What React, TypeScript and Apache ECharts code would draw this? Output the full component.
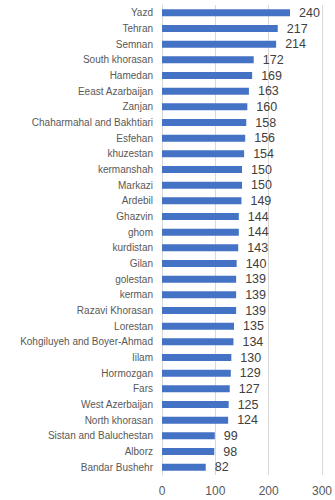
import React, { useEffect, useRef } from "react";
import * as echarts from "echarts";

const categories = [
  "Yazd", "Tehran", "Semnan", "South khorasan", "Hamedan", "Eeast Azarbaijan", "Zanjan",
  "Chaharmahal and Bakhtiari", "Esfehan", "khuzestan", "kermanshah", "Markazi", "Ardebil",
  "Ghazvin", "ghom", "kurdistan", "Gilan", "golestan", "kerman", "Razavi Khorasan", "Lorestan",
  "Kohgiluyeh and Boyer-Ahmad", "Iilam", "Hormozgan", "Fars", "West Azerbaijan", "North khorasan",
  "Sistan and Baluchestan", "Alborz", "Bandar Bushehr",
];
const values = [
  240, 217, 214, 172, 169, 163, 160, 158, 156, 154, 150, 150, 149, 144, 144, 143, 140, 139, 139,
  139, 135, 134, 130, 129, 127, 125, 124, 99, 98, 82,
];
const xTicks = [0, 100, 200, 300];

export default function App() {
  const ref = useRef<HTMLDivElement>(null);
  useEffect(() => {
    const chart = echarts.init(ref.current!, null, { renderer: "svg" });
    chart.setOption({
      animation: false,
      grid: { left: 162, right: 11, top: 5, bottom: 25, containLabel: false },
      xAxis: {
        type: "value",
        min: xTicks[0],
        max: xTicks[xTicks.length - 1],
        interval: 100,
        axisLine: { show: false },
        axisTick: { show: false },
        splitLine: { lineStyle: { color: "#d9d9d9", width: 1 } },
        axisLabel: { color: "#595959", fontSize: 12, fontFamily: "Liberation Sans", margin: 10 },
      },
      yAxis: {
        type: "category",
        data: categories,
        inverse: true,
        axisLine: { show: true, lineStyle: { color: "#d9d9d9" } },
        axisTick: { show: false },
        axisLabel: { color: "#595959", fontSize: 10, fontFamily: "Liberation Sans", margin: 9, interval: 0 },
      },
      series: [
        {
          type: "bar",
          data: values,
          barWidth: 7,
          itemStyle: { color: "#4472C4" },
          label: {
            show: true,
            position: "right",
            distance: 9,
            color: "#404040",
            fontSize: 12.5,
            fontFamily: "Liberation Sans",
          },
        },
      ],
    });
    return () => chart.dispose();
  }, []);
  return <div ref={ref} style={{ width: 335, height: 500, position: "absolute", left: 0, top: 0 }} />;
}
